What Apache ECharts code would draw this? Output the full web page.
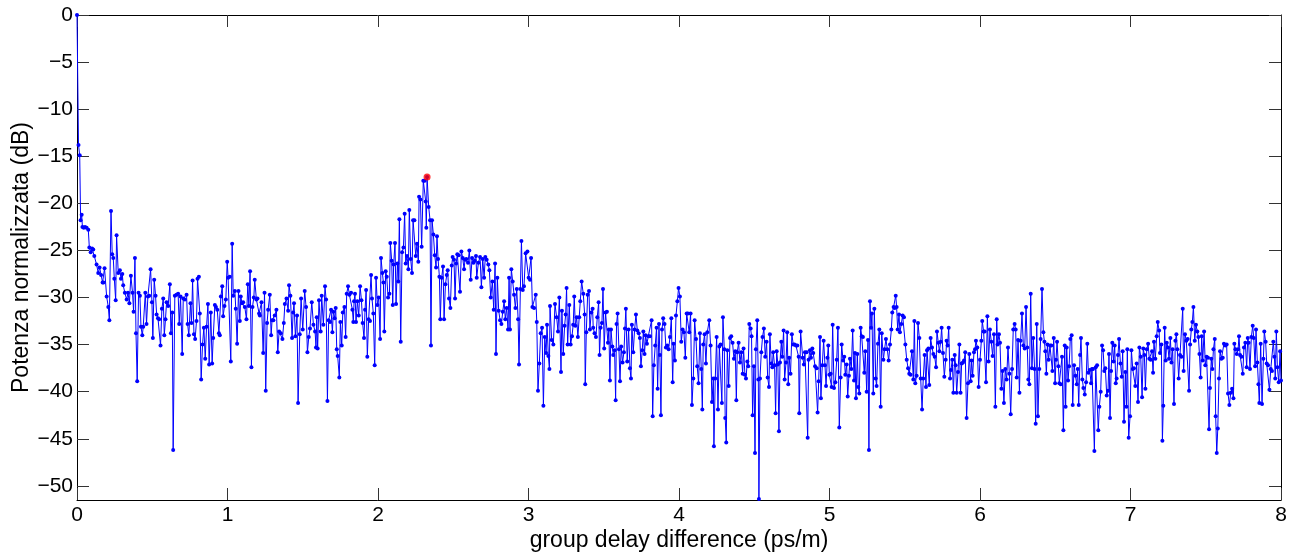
<!DOCTYPE html>
<html>
<head>
<meta charset="utf-8">
<script src="https://cdn.jsdelivr.net/npm/echarts@6/dist/echarts.min.js"></script>
<style>html,body{margin:0;padding:0;background:#fff}#c{width:1296px;height:556px}</style>
</head>
<body>
<div id="c"></div>
<script>
// group delay difference (ps/m), normalised power (dB)
const trace = [
[0.000,0],[0.010,-13.8],[0.018,-14.9],[0.024,-21.8],[0.031,-21.2],[0.036,-22.5],[0.045,-22.6],[0.053,-22.5],[0.064,-22.6],[0.075,-22.8],
[0.082,-24.7],[0.091,-25.2],[0.100,-24.8],[0.108,-24.9],[0.115,-25.6],[0.130,-26.5],[0.141,-27.4],[0.150,-26.8],[0.160,-27.6],[0.170,-28.4],
[0.176,-28.4],[0.183,-26.9],[0.197,-29.9],[0.208,-31.0],[0.215,-32.4],[0.226,-20.8],[0.234,-25.4],[0.241,-25.8],[0.248,-28.0],[0.257,-30.3],
[0.263,-23.4],[0.274,-27.4],[0.285,-27.1],[0.292,-28.0],[0.301,-27.5],[0.307,-28.7],[0.318,-29.5],[0.330,-30.2],[0.339,-29.5],[0.348,-30.6],
[0.358,-27.7],[0.369,-29.5],[0.376,-31.5],[0.385,-25.8],[0.392,-33.8],[0.400,-38.9],[0.409,-29.5],[0.418,-29.8],[0.425,-33.1],[0.434,-34.0],
[0.440,-33.1],[0.454,-29.5],[0.462,-32.8],[0.471,-29.9],[0.480,-29.8],[0.489,-27.0],[0.498,-30.5],[0.504,-34.3],[0.513,-28.1],[0.522,-29.8],
[0.529,-31.8],[0.538,-32.2],[0.546,-32.3],[0.555,-35.1],[0.564,-31.2],[0.573,-30.1],[0.580,-34.0],[0.588,-32.3],[0.595,-30.5],[0.606,-30.9],
[0.617,-28.6],[0.624,-33.8],[0.633,-31.6],[0.639,-46.2],[0.650,-29.8],[0.661,-29.7],[0.672,-29.6],[0.679,-32.8],[0.688,-29.9],[0.699,-36.0],
[0.706,-30.1],[0.717,-30.2],[0.728,-29.7],[0.735,-32.8],[0.743,-34.0],[0.754,-30.6],[0.761,-32.7],[0.768,-28.2],[0.777,-33.9],[0.785,-34.4],
[0.794,-32.5],[0.801,-28.0],[0.810,-27.8],[0.816,-31.7],[0.825,-38.7],[0.834,-35.0],[0.843,-33.2],[0.852,-36.5],[0.861,-33.1],[0.870,-30.7],
[0.878,-37.1],[0.889,-31.6],[0.898,-37.0],[0.905,-34.3],[0.916,-30.8],[0.923,-31.0],[0.932,-31.3],[0.943,-33.8],[0.949,-34.0],[0.956,-29.9],
[0.965,-28.8],[0.971,-32.0],[0.980,-30.9],[0.989,-30.2],[0.998,-26.2],[1.004,-27.9],[1.015,-27.8],[1.022,-36.8],[1.031,-24.3],[1.038,-29.8],
[1.049,-29.3],[1.055,-31.2],[1.064,-34.9],[1.073,-29.3],[1.082,-32.5],[1.088,-29.9],[1.097,-30.6],[1.104,-30.5],[1.115,-31.0],[1.126,-32.3],
[1.135,-28.6],[1.142,-30.9],[1.150,-27.2],[1.159,-37.4],[1.166,-31.0],[1.175,-30.0],[1.181,-28.1],[1.192,-30.2],[1.199,-30.1],[1.210,-31.7],
[1.215,-31.9],[1.226,-30.5],[1.237,-35.9],[1.246,-29.5],[1.254,-39.9],[1.263,-32.7],[1.270,-31.3],[1.281,-29.7],[1.290,-34.0],[1.296,-32.4],
[1.305,-32.4],[1.314,-31.9],[1.325,-31.3],[1.334,-35.8],[1.343,-33.6],[1.354,-33.8],[1.365,-34.4],[1.374,-32.7],[1.381,-30.7],[1.392,-30.1],
[1.403,-31.4],[1.409,-28.7],[1.418,-29.8],[1.429,-34.3],[1.436,-31.6],[1.442,-30.6],[1.451,-34.1],[1.462,-31.9],[1.469,-41.2],[1.480,-33.9],
[1.489,-30.1],[1.500,-33.4],[1.513,-29.3],[1.522,-31.0],[1.531,-35.8],[1.540,-34.2],[1.548,-33.3],[1.560,-30.5],[1.571,-32.9],[1.582,-33.6],
[1.588,-35.3],[1.593,-32.1],[1.599,-35.4],[1.608,-30.3],[1.619,-33.6],[1.626,-29.8],[1.637,-32.9],[1.648,-28.8],[1.655,-30.2],[1.664,-41.0],
[1.672,-32.4],[1.681,-32.6],[1.688,-31.3],[1.697,-33.7],[1.703,-31.5],[1.712,-32.2],[1.719,-31.1],[1.726,-35.5],[1.732,-36.2],[1.743,-38.5],
[1.750,-32.6],[1.759,-35.1],[1.766,-31.6],[1.777,-31.0],[1.785,-34.2],[1.792,-29.6],[1.801,-28.8],[1.810,-29.7],[1.821,-29.5],[1.830,-31.3],
[1.836,-32.6],[1.841,-30.4],[1.847,-29.6],[1.854,-32.6],[1.863,-30.4],[1.872,-31.9],[1.881,-28.8],[1.890,-30.3],[1.898,-32.7],[1.907,-34.3],
[1.914,-31.3],[1.921,-29.2],[1.929,-36.3],[1.938,-32.3],[1.947,-32.5],[1.954,-27.6],[1.960,-30.1],[1.969,-31.7],[1.978,-37.2],[1.987,-27.9],
[1.996,-30.8],[2.005,-30.0],[2.014,-34.4],[2.020,-25.8],[2.029,-27.4],[2.036,-28.4],[2.042,-33.6],[2.051,-27.2],[2.058,-27.8],[2.067,-30.0],
[2.076,-29.6],[2.082,-24.2],[2.091,-26.1],[2.098,-30.8],[2.104,-26.5],[2.113,-24.2],[2.120,-30.7],[2.129,-26.4],[2.135,-28.3],[2.142,-21.7],
[2.151,-34.7],[2.160,-25.2],[2.169,-24.7],[2.177,-21.1],[2.184,-26.4],[2.193,-25.6],[2.202,-27.0],[2.208,-20.7],[2.217,-25.9],[2.226,-27.4],
[2.233,-21.8],[2.242,-21.8],[2.251,-25.6],[2.259,-24.3],[2.268,-26.2],[2.273,-19.3],[2.282,-19.6],[2.290,-24.6],[2.301,-17.6],[2.310,-17.6],
[2.317,-19.8],[2.321,-22.6],[2.326,-17.2],[2.337,-20.4],[2.346,-21.8],[2.352,-35.1],[2.359,-21.8],[2.368,-23.3],[2.377,-25.5],[2.386,-26.8],
[2.392,-23.5],[2.399,-25.9],[2.408,-27.8],[2.414,-32.3],[2.423,-27.9],[2.432,-26.7],[2.439,-32.3],[2.448,-28.6],[2.457,-27.6],[2.463,-27.1],
[2.472,-30.1],[2.481,-31.1],[2.490,-26.6],[2.496,-25.7],[2.505,-26.0],[2.512,-30.1],[2.519,-26.4],[2.527,-25.4],[2.536,-25.5],[2.545,-29.4],
[2.554,-25.1],[2.563,-25.8],[2.572,-27.0],[2.578,-26.0],[2.587,-25.9],[2.598,-26.3],[2.607,-25.0],[2.616,-28.1],[2.625,-25.8],[2.634,-26.3],
[2.643,-26.1],[2.651,-25.6],[2.656,-27.9],[2.667,-26.3],[2.678,-25.7],[2.687,-28.9],[2.696,-25.9],[2.705,-27.9],[2.713,-25.7],[2.722,-26.0],
[2.733,-26.5],[2.740,-27.1],[2.749,-30.0],[2.760,-28.3],[2.769,-31.3],[2.778,-26.4],[2.784,-36.0],[2.793,-27.9],[2.802,-31.4],[2.811,-32.4],
[2.820,-32.8],[2.829,-31.5],[2.838,-30.4],[2.846,-32.3],[2.855,-31.1],[2.864,-33.4],[2.871,-27.9],[2.877,-33.4],[2.886,-27.0],[2.895,-28.3],
[2.904,-29.7],[2.913,-31.1],[2.922,-29.1],[2.931,-32.3],[2.937,-37.1],[2.946,-29.1],[2.953,-24.0],[2.962,-29.2],[2.970,-28.8],[2.981,-25.3],
[2.993,-25.1],[3.001,-27.9],[3.010,-28.1],[3.017,-25.8],[3.026,-31.0],[3.037,-31.1],[3.048,-29.7],[3.055,-32.6],[3.063,-39.9],[3.072,-37.0],
[3.081,-33.8],[3.090,-33.2],[3.099,-41.5],[3.108,-34.2],[3.117,-35.9],[3.123,-32.9],[3.132,-36.2],[3.139,-37.6],[3.143,-30.9],[3.154,-34.5],
[3.165,-35.0],[3.176,-30.7],[3.187,-32.1],[3.196,-33.6],[3.205,-30.0],[3.216,-37.9],[3.222,-31.4],[3.231,-36.0],[3.240,-33.0],[3.247,-31.8],
[3.253,-29.0],[3.260,-35.0],[3.271,-30.8],[3.280,-35.0],[3.289,-34.1],[3.297,-32.9],[3.304,-29.9],[3.311,-33.0],[3.320,-32.1],[3.328,-34.2],
[3.337,-32.1],[3.344,-30.4],[3.353,-28.3],[3.364,-29.6],[3.373,-31.8],[3.377,-39.2],[3.384,-33.7],[3.393,-29.7],[3.402,-29.3],[3.408,-33.4],
[3.417,-31.6],[3.426,-31.2],[3.430,-33.2],[3.439,-33.8],[3.448,-34.2],[3.457,-32.1],[3.466,-30.5],[3.472,-36.1],[3.479,-33.2],[3.488,-32.7],
[3.495,-29.1],[3.503,-35.4],[3.512,-31.6],[3.521,-31.5],[3.528,-34.8],[3.534,-33.4],[3.541,-38.8],[3.548,-33.4],[3.557,-35.2],[3.563,-36.1],
[3.572,-35.6],[3.579,-40.9],[3.585,-32.8],[3.592,-31.7],[3.601,-35.5],[3.608,-38.9],[3.616,-35.2],[3.625,-36.9],[3.634,-35.8],[3.641,-33.3],
[3.647,-31.2],[3.656,-36.8],[3.665,-33.4],[3.674,-37.5],[3.681,-38.6],[3.687,-32.9],[3.696,-35.8],[3.705,-33.4],[3.714,-31.8],[3.723,-33.5],
[3.732,-33.8],[3.740,-34.3],[3.747,-37.3],[3.756,-35.6],[3.763,-33.6],[3.771,-36.0],[3.778,-34.0],[3.787,-34.9],[3.796,-34.1],[3.807,-34.1],
[3.818,-32.4],[3.825,-42.6],[3.833,-37.2],[3.842,-35.1],[3.851,-33.2],[3.858,-39.7],[3.867,-32.8],[3.873,-36.1],[3.880,-42.5],[3.887,-33.4],
[3.895,-32.2],[3.904,-32.8],[3.913,-35.3],[3.922,-35.1],[3.931,-35.5],[3.940,-34.2],[3.949,-32.2],[3.958,-39.0],[3.964,-34.9],[3.973,-36.7],
[3.980,-31.9],[3.989,-30.4],[3.997,-29.0],[4.006,-29.9],[4.015,-34.7],[4.024,-33.4],[4.033,-33.7],[4.042,-36.4],[4.051,-31.7],[4.059,-31.7],
[4.068,-33.7],[4.077,-31.7],[4.086,-41.4],[4.095,-38.6],[4.104,-32.4],[4.113,-34.4],[4.121,-37.3],[4.130,-39.1],[4.139,-33.8],[4.148,-37.6],
[4.155,-41.9],[4.161,-35.0],[4.170,-33.9],[4.179,-37.0],[4.188,-33.7],[4.201,-32.4],[4.210,-35.1],[4.219,-41.1],[4.228,-38.6],[4.232,-45.8],
[4.241,-38.6],[4.250,-34.2],[4.259,-41.9],[4.268,-35.2],[4.276,-35.0],[4.285,-41.2],[4.292,-32.1],[4.301,-35.5],[4.307,-42.8],[4.314,-45.4],
[4.321,-35.6],[4.330,-39.4],[4.339,-34.3],[4.347,-34.1],[4.356,-34.8],[4.365,-36.5],[4.374,-35.7],[4.381,-40.9],[4.387,-35.8],[4.396,-34.8],
[4.405,-36.9],[4.414,-35.8],[4.423,-38.1],[4.429,-35.4],[4.438,-38.2],[4.445,-38.6],[4.454,-36.8],[4.460,-37.3],[4.467,-32.8],[4.476,-33.3],
[4.482,-34.1],[4.489,-42.5],[4.498,-37.3],[4.505,-46.5],[4.511,-35.5],[4.520,-32.4],[4.527,-38.7],[4.531,-51.4],[4.538,-38.6],[4.547,-35.8],
[4.555,-34.2],[4.564,-33.3],[4.573,-36.3],[4.582,-34.7],[4.589,-38.5],[4.598,-39.5],[4.604,-33.9],[4.613,-37.0],[4.620,-37.4],[4.626,-35.8],
[4.635,-37.2],[4.642,-42.3],[4.649,-35.7],[4.657,-37.1],[4.664,-44.2],[4.671,-36.9],[4.680,-34.7],[4.686,-36.3],[4.695,-33.5],[4.702,-38.7],
[4.711,-36.9],[4.719,-33.7],[4.726,-39.2],[4.732,-36.4],[4.741,-38.1],[4.750,-33.9],[4.759,-35.0],[4.768,-35.0],[4.777,-35.1],[4.786,-35.1],
[4.795,-36.3],[4.799,-42.3],[4.808,-33.6],[4.822,-36.4],[4.830,-37.1],[4.837,-35.8],[4.848,-35.8],[4.855,-44.9],[4.861,-36.6],[4.870,-35.6],
[4.877,-36.4],[4.886,-35.4],[4.892,-35.9],[4.904,-37.3],[4.915,-37.5],[4.921,-42.2],[4.928,-38.9],[4.937,-34.2],[4.943,-40.7],[4.952,-37.2],
[4.961,-34.6],[4.970,-37.2],[4.977,-39.4],[4.986,-36.4],[4.992,-35.1],[4.999,-38.2],[5.008,-38.1],[5.014,-39.5],[5.021,-32.9],[5.030,-39.6],
[5.039,-39.0],[5.048,-36.6],[5.056,-33.2],[5.065,-43.8],[5.074,-38.5],[5.081,-35.0],[5.090,-36.7],[5.098,-36.3],[5.105,-38.2],[5.114,-37.1],
[5.121,-40.5],[5.129,-38.3],[5.136,-36.5],[5.145,-37.6],[5.154,-33.5],[5.163,-38.8],[5.169,-35.9],[5.176,-40.7],[5.185,-36.0],[5.191,-39.5],
[5.198,-40.2],[5.207,-33.2],[5.214,-34.1],[5.222,-34.2],[5.231,-38.0],[5.238,-35.7],[5.247,-40.0],[5.256,-34.5],[5.262,-46.2],[5.269,-30.4],
[5.276,-33.2],[5.282,-31.7],[5.291,-40.2],[5.298,-31.2],[5.307,-38.6],[5.313,-39.4],[5.322,-34.9],[5.331,-33.4],[5.340,-41.6],[5.347,-33.8],
[5.358,-36.6],[5.366,-35.5],[5.375,-34.4],[5.384,-35.5],[5.393,-36.7],[5.402,-35.0],[5.411,-33.4],[5.417,-31.6],[5.426,-31.0],[5.433,-31.1],
[5.440,-29.8],[5.446,-31.0],[5.453,-33.4],[5.462,-31.8],[5.468,-33.7],[5.477,-32.8],[5.486,-31.9],[5.495,-32.1],[5.504,-35.0],[5.513,-36.6],
[5.522,-37.5],[5.530,-38.1],[5.539,-38.2],[5.548,-35.7],[5.557,-38.7],[5.564,-32.5],[5.570,-39.1],[5.579,-38.3],[5.588,-32.7],[5.597,-34.3],
[5.606,-38.6],[5.615,-41.9],[5.623,-38.6],[5.632,-36.1],[5.641,-39.5],[5.648,-35.6],[5.657,-35.4],[5.663,-39.3],[5.672,-34.3],[5.681,-35.3],
[5.690,-36.0],[5.699,-36.3],[5.708,-37.4],[5.714,-33.6],[5.723,-34.8],[5.730,-35.7],[5.739,-34.7],[5.745,-33.2],[5.754,-35.9],[5.763,-38.4],
[5.772,-36.6],[5.778,-34.6],[5.785,-35.1],[5.792,-33.2],[5.801,-38.6],[5.807,-37.7],[5.816,-36.6],[5.823,-40.1],[5.832,-36.1],[5.838,-37.2],
[5.845,-40.1],[5.854,-37.9],[5.863,-35.0],[5.871,-40.1],[5.878,-37.0],[5.887,-36.9],[5.894,-36.7],[5.902,-35.8],[5.911,-42.8],[5.920,-39.1],
[5.929,-36.0],[5.938,-38.9],[5.944,-36.7],[5.951,-38.3],[5.960,-35.8],[5.967,-35.5],[5.973,-34.6],[5.982,-35.3],[5.991,-39.5],[6.000,-36.6],
[6.009,-34.6],[6.015,-32.5],[6.024,-33.6],[6.031,-33.6],[6.040,-39.0],[6.049,-32.0],[6.057,-36.8],[6.066,-33.4],[6.075,-34.7],[6.084,-36.2],
[6.093,-33.9],[6.102,-41.6],[6.111,-32.3],[6.117,-35.0],[6.126,-33.9],[6.133,-34.8],[6.142,-39.7],[6.150,-37.8],[6.159,-41.2],[6.168,-37.6],
[6.177,-38.7],[6.186,-35.3],[6.195,-38.1],[6.204,-42.4],[6.213,-37.6],[6.221,-33.4],[6.230,-32.8],[6.237,-33.4],[6.244,-38.5],[6.253,-34.5],
[6.262,-40.1],[6.270,-34.6],[6.279,-31.7],[6.288,-35.1],[6.297,-35.4],[6.306,-31.0],[6.314,-35.3],[6.321,-38.7],[6.328,-39.2],[6.337,-29.6],
[6.345,-37.5],[6.354,-34.3],[6.363,-37.6],[6.370,-43.4],[6.377,-32.8],[6.385,-42.6],[6.394,-37.6],[6.403,-34.4],[6.412,-29.1],[6.421,-33.7],
[6.428,-34.7],[6.434,-35.7],[6.441,-38.1],[6.448,-35.0],[6.456,-36.6],[6.465,-35.1],[6.474,-35.1],[6.481,-37.8],[6.490,-34.3],[6.499,-39.1],
[6.505,-36.6],[6.512,-34.7],[6.521,-37.3],[6.527,-39.1],[6.536,-39.2],[6.545,-36.3],[6.554,-44.1],[6.563,-35.1],[6.569,-41.6],[6.576,-35.3],
[6.585,-38.8],[6.592,-37.3],[6.600,-34.4],[6.609,-34.0],[6.616,-41.4],[6.625,-37.2],[6.634,-38.3],[6.643,-39.2],[6.649,-37.6],[6.656,-41.4],
[6.665,-36.1],[6.671,-34.3],[6.680,-38.7],[6.687,-39.6],[6.696,-40.3],[6.705,-39.0],[6.713,-34.9],[6.720,-38.0],[6.729,-37.7],[6.738,-39.1],
[6.744,-37.6],[6.751,-37.6],[6.760,-46.3],[6.769,-37.4],[6.778,-37.2],[6.786,-44.1],[6.793,-41.6],[6.802,-40.0],[6.811,-35.1],[6.818,-35.6],
[6.826,-37.8],[6.833,-37.5],[6.842,-40.4],[6.851,-39.9],[6.857,-36.0],[6.864,-42.8],[6.871,-37.8],[6.879,-34.8],[6.888,-36.8],[6.895,-35.1],
[6.902,-39.1],[6.908,-38.6],[6.917,-36.1],[6.924,-34.4],[6.933,-37.0],[6.942,-38.4],[6.948,-35.7],[6.957,-43.2],[6.966,-37.9],[6.973,-41.6],
[6.979,-35.5],[6.988,-44.9],[6.997,-42.6],[7.006,-35.6],[7.015,-37.6],[7.023,-37.5],[7.032,-39.4],[7.041,-37.0],[7.050,-41.1],[7.059,-35.3],
[7.068,-36.3],[7.077,-40.6],[7.085,-35.4],[7.092,-36.1],[7.099,-39.7],[7.108,-35.5],[7.117,-34.9],[7.125,-36.5],[7.134,-36.6],[7.143,-35.7],
[7.150,-38.0],[7.156,-34.7],[7.165,-36.5],[7.174,-34.1],[7.181,-32.6],[7.190,-33.5],[7.196,-35.9],[7.205,-35.0],[7.212,-45.2],[7.218,-41.5],
[7.227,-33.2],[7.234,-36.7],[7.241,-34.8],[7.249,-35.3],[7.256,-36.5],[7.265,-34.3],[7.272,-36.9],[7.280,-35.5],[7.289,-41.3],[7.298,-34.6],
[7.305,-33.9],[7.311,-35.5],[7.320,-38.6],[7.329,-36.1],[7.338,-36.3],[7.347,-31.2],[7.353,-37.8],[7.362,-33.9],[7.371,-34.6],[7.380,-34.4],
[7.389,-39.9],[7.396,-35.0],[7.404,-33.4],[7.411,-32.6],[7.418,-31.0],[7.427,-34.6],[7.435,-32.9],[7.444,-33.6],[7.451,-34.2],[7.458,-36.0],
[7.466,-38.5],[7.473,-34.1],[7.480,-36.7],[7.489,-33.6],[7.497,-37.2],[7.506,-36.3],[7.515,-36.4],[7.522,-44.0],[7.528,-39.6],[7.537,-36.5],
[7.544,-37.6],[7.551,-35.5],[7.560,-34.4],[7.566,-42.6],[7.573,-46.5],[7.580,-43.9],[7.588,-38.6],[7.595,-35.7],[7.604,-36.5],[7.613,-36.4],
[7.621,-34.9],[7.630,-35.1],[7.639,-35.0],[7.648,-40.2],[7.657,-41.4],[7.666,-40.1],[7.675,-39.7],[7.684,-40.7],[7.690,-34.9],[7.697,-35.5],
[7.706,-36.0],[7.715,-35.5],[7.721,-34.1],[7.728,-36.1],[7.737,-36.3],[7.746,-38.1],[7.754,-35.3],[7.763,-34.8],[7.772,-37.4],[7.779,-34.3],
[7.785,-34.8],[7.794,-37.6],[7.803,-34.2],[7.812,-33.0],[7.819,-34.3],[7.828,-37.3],[7.834,-33.4],[7.843,-36.9],[7.850,-39.2],[7.856,-41.2],
[7.865,-34.9],[7.874,-41.3],[7.883,-36.5],[7.889,-33.6],[7.898,-34.7],[7.905,-37.0],[7.914,-37.2],[7.923,-39.8],[7.932,-37.6],[7.940,-37.8],
[7.949,-34.7],[7.956,-36.3],[7.962,-38.6],[7.969,-33.6],[7.976,-37.4],[7.985,-39.0],[7.994,-35.7],[8.000,-38.8]
];
const peak = [[2.326,-17.2]];
const yTicks = [0,-5,-10,-15,-20,-25,-30,-35,-40,-45,-50];

const FONT = 'Liberation Sans, Arial, Helvetica, sans-serif';
const fmt = v => String(v).replace('-', '\u2212');
const chart = echarts.init(document.getElementById('c'), null, {renderer:'canvas'});
const tickStyle = {show:true, inside:true, length:12, lineStyle:{color:'#333', width:1}};
chart.setOption({
  animation:false,
  backgroundColor:'#fff',
  grid:{left:77, right:15, top:15, bottom:56, containLabel:false, outerBoundsMode:'none'},
  xAxis:[{
    type:'value', min:0, max:8, interval:1, position:'bottom',
    name:'group delay difference (ps/m)', nameLocation:'middle', nameGap:29, nameMoveOverlap:false,
    nameTextStyle:{color:'#000', fontSize:23, fontFamily:FONT, verticalAlign:'top'},
    axisLine:{show:true, onZero:false, lineStyle:{color:'#000', width:1}},
    axisTick:tickStyle,
    axisLabel:{color:'#000', fontSize:21, fontFamily:FONT, margin:5, formatter:fmt},
    splitLine:{show:false}
  },{
    type:'value', min:0, max:8, interval:1, position:'top',
    axisLine:{show:true, onZero:false, lineStyle:{color:'#000', width:1}},
    axisTick:tickStyle, axisLabel:{show:false}, splitLine:{show:false}
  }],
  yAxis:[{
    type:'value', min:-51.5, max:0, position:'left',
    name:'Potenza normalizzata (dB)', nameLocation:'middle', nameGap:44, nameRotate:90, nameMoveOverlap:false,
    nameTextStyle:{color:'#000', fontSize:23, fontFamily:FONT},
    axisLine:{show:true, onZero:false, lineStyle:{color:'#000', width:1}},
    axisTick:Object.assign({}, tickStyle, {customValues:yTicks}),
    axisLabel:{color:'#000', fontSize:21, fontFamily:FONT, margin:4, customValues:yTicks, formatter:fmt},
    splitLine:{show:false}
  },{
    type:'value', min:-51.5, max:0, position:'right',
    axisLine:{show:true, onZero:false, lineStyle:{color:'#000', width:1}},
    axisTick:Object.assign({}, tickStyle, {customValues:yTicks}),
    axisLabel:{show:false, customValues:yTicks}, splitLine:{show:false}
  }],
  series:[{
    type:'line', data:trace, xAxisIndex:0, yAxisIndex:0,
    showSymbol:true, showAllSymbol:true, symbol:'circle', symbolSize:4,
    itemStyle:{color:'#0000ff'}, lineStyle:{color:'#0000ff', width:1},
    emphasis:{disabled:true}, clip:true, z:2
  },{
    type:'scatter', data:peak, symbol:'circle', symbolSize:7,
    itemStyle:{color:'#ff0000'}, z:3
  }]
});
</script>
</body>
</html>
